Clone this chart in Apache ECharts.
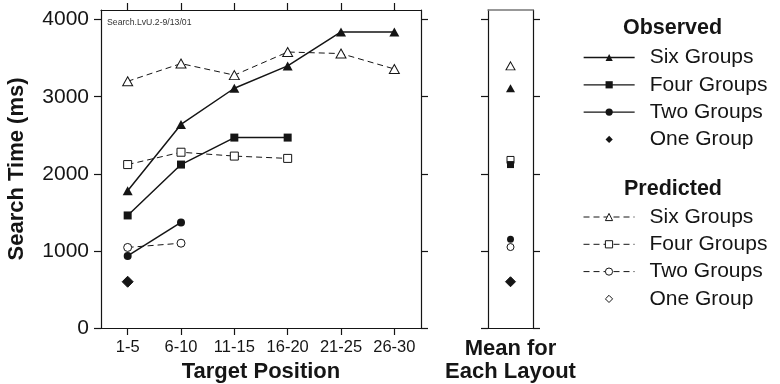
<!DOCTYPE html>
<html>
<head>
<meta charset="utf-8">
<script src="https://cdn.jsdelivr.net/npm/echarts@6/dist/echarts.min.js"></script>
<style>
  html, body { margin: 0; padding: 0; background: #fff; }
  #chart { width: 780px; height: 384px; }
</style>
</head>
<body>
<div id="chart"></div>
<script>
// Target positions along the x axis
const positions = ['1-5', '6-10', '11-15', '16-20', '21-25', '26-30'];

// Observed search times (ms)
const observedSix = [1780, 2640, 3110, 3400, 3840, 3840];
const observedFour = [1460, 2120, 2470, 2470];
const observedTwo = [935, 1370];
const observedOne = [600];

// Predicted search times (ms)
const predictedSix = [3200, 3430, 3280, 3580, 3560, 3360];
const predictedFour = [2120, 2280, 2230, 2200];
const predictedTwo = [1045, 1100];
const predictedOne = [600];

// Mean for each layout: Six, Four, Two, One group(s)
const groupNames = ['Six Groups', 'Four Groups', 'Two Groups', 'One Group'];
const meanObserved = [3110, 2120, 1150, 600];
const meanPredicted = [3400, 2180, 1050, 600];

const yTicks = [0, 1000, 2000, 3000, 4000];
const sourceNote = 'Search.LvU.2-9/13/01';

const FONT = '"Liberation Sans", Arial, Helvetica, sans-serif';
const INK = '#151515';
const Y_MAX = 4125;

const symbols = ['triangle', 'rect', 'circle', 'diamond'];
const mainSizes = [[10, 9], 8, 8, 11];
const meanSizes = [[9, 8], 7, 7, 10];

const observedSeriesData = [observedSix, observedFour, observedTwo, observedOne];
const predictedSeriesData = [predictedSix, predictedFour, predictedTwo, predictedOne];

const filledStyle = { color: INK, borderWidth: 0, opacity: 1 };
const openStyle = { color: '#fff', borderColor: INK, borderWidth: 1, opacity: 1 };
const solidLine = { color: INK, width: 1.5, type: 'solid' };
const dashedLine = { color: INK, width: 1, type: [6, 4] };
const noLine = { color: INK, width: 0, opacity: 0 };

function seriesName(kind, i) { return kind + ' ' + groupNames[i]; }

const series = [];

// Predicted series in the main panel (drawn first, beneath observed)
predictedSeriesData.forEach(function (vals, i) {
  series.push({
    name: seriesName('Predicted', i),
    type: 'line',
    xAxisIndex: 0, yAxisIndex: 0,
    data: vals,
    symbol: symbols[i],
    symbolSize: mainSizes[i],
    showAllSymbol: true,
    itemStyle: openStyle,
    lineStyle: vals.length > 1 ? dashedLine : noLine,
    emphasis: { disabled: true },
    z: 2
  });
});

// Observed series in the main panel
observedSeriesData.forEach(function (vals, i) {
  series.push({
    name: seriesName('Observed', i),
    type: 'line',
    xAxisIndex: 0, yAxisIndex: 0,
    data: vals,
    symbol: symbols[i],
    symbolSize: mainSizes[i],
    showAllSymbol: true,
    itemStyle: filledStyle,
    lineStyle: vals.length > 1 ? solidLine : noLine,
    emphasis: { disabled: true },
    z: 3
  });
});

// Mean markers: predicted underneath, observed on top
meanPredicted.forEach(function (v, i) {
  series.push({
    name: seriesName('Predicted', i),
    type: 'scatter',
    xAxisIndex: 2, yAxisIndex: 2,
    data: [v],
    symbol: symbols[i],
    symbolSize: meanSizes[i],
    itemStyle: openStyle,
    emphasis: { disabled: true },
    z: 3
  });
});
meanObserved.forEach(function (v, i) {
  series.push({
    name: seriesName('Observed', i),
    type: 'scatter',
    xAxisIndex: 2, yAxisIndex: 2,
    data: [v],
    symbol: symbols[i],
    symbolSize: meanSizes[i],
    itemStyle: filledStyle,
    emphasis: { disabled: true },
    z: 4
  });
});

const axisLineStyle = { color: INK, width: 1.2 };
const tickStyle = { color: INK, width: 1.2 };

function valueAxis(gridIndex, position, withLabels) {
  return {
    type: 'value',
    gridIndex: gridIndex,
    position: position,
    min: 0,
    max: Y_MAX,
    interval: 1000,
    splitLine: { show: false },
    axisLine: { show: true, onZero: false, lineStyle: axisLineStyle },
    axisTick: { show: true, length: 7, lineStyle: tickStyle, customValues: yTicks },
    axisLabel: {
      show: withLabels,
      customValues: yTicks,
      formatter: function (v) { return String(v); },
      fontSize: 21,
      margin: 12,
      color: INK,
      fontFamily: FONT
    }
  };
}

const mainLeft = Object.assign(valueAxis(0, 'left', true), {
  name: 'Search Time (ms)',
  nameLocation: 'middle',
  nameRotate: 90,
  nameGap: 73,
  nameTextStyle: { fontSize: 22, fontWeight: 'bold', color: INK, fontFamily: FONT }
});

function legendFor(kind, top) {
  return {
    orient: 'vertical',
    left: 583,
    top: top,
    padding: 0,
    itemWidth: 51,
    itemHeight: 9,
    itemGap: 6.3,
    selectedMode: false,
    data: groupNames.map(function (g, i) {
      const n = seriesName(kind, i);
      // the single-group entry is a bare marker with no line sample
      return i === 3 ? { name: n, lineStyle: { width: 0, opacity: 0 } } : n;
    }),
    formatter: function (name) { return name.replace(/^(Observed|Predicted) /, ''); },
    textStyle: { fontSize: 21, lineHeight: 21, color: INK, fontFamily: FONT, padding: [0, 0, 0, 10] },
    lineStyle: { width: kind === 'Observed' ? 1.3 : 1 },
    itemStyle: { borderWidth: 1 }
  };
}

const option = {
  animation: false,
  backgroundColor: '#fff',
  textStyle: { fontFamily: FONT },
  grid: [
    { left: 101, top: 10, width: 320, height: 318, outerBoundsMode: 'none', containLabel: false },
    { left: 488, top: 10, width: 45, height: 318, outerBoundsMode: 'none', containLabel: false }
  ],
  xAxis: [
    {
      type: 'category', gridIndex: 0, position: 'bottom', data: positions, boundaryGap: true,
      axisLine: { show: true, onZero: false, lineStyle: axisLineStyle },
      axisTick: { show: true, alignWithLabel: true, length: 7, lineStyle: tickStyle },
      axisLabel: { fontSize: 16.5, margin: 11, color: INK, fontFamily: FONT, interval: 0 },
      name: 'Target Position', nameLocation: 'middle', nameGap: 33,
      nameTextStyle: { fontSize: 22, fontWeight: 'bold', color: INK, fontFamily: FONT }
    },
    {
      type: 'category', gridIndex: 0, position: 'top', data: positions, boundaryGap: true,
      axisLine: { show: true, onZero: false, lineStyle: axisLineStyle },
      axisTick: { show: true, alignWithLabel: true, length: 7, lineStyle: tickStyle },
      axisLabel: { show: false }
    },
    {
      type: 'category', gridIndex: 1, position: 'bottom', data: ['Mean'], boundaryGap: true,
      axisLine: { show: true, onZero: false, lineStyle: axisLineStyle },
      axisTick: { show: false },
      axisLabel: { show: false },
      name: 'Mean for\nEach Layout', nameLocation: 'middle', nameGap: 9,
      nameTextStyle: { fontSize: 22, fontWeight: 'bold', lineHeight: 23.5, color: INK, fontFamily: FONT }
    },
    {
      type: 'category', gridIndex: 1, position: 'top', data: ['Mean'], boundaryGap: true,
      axisLine: { show: true, onZero: false, lineStyle: { color: '#777', width: 1.5 } },
      axisTick: { show: false },
      axisLabel: { show: false }
    }
  ],
  yAxis: [
    mainLeft,
    valueAxis(0, 'right', false),
    valueAxis(1, 'left', false),
    valueAxis(1, 'right', false)
  ],
  legend: [legendFor('Observed', 47), legendFor('Predicted', 206.5)],
  graphic: [
    {
      type: 'text', x: 107, y: 22.7,
      style: { text: sourceNote, fontSize: 8.7, fontFamily: FONT, fill: '#333', align: 'left', verticalAlign: 'middle' }
    },
    {
      type: 'text', x: 672.5, y: 28,
      style: { text: 'Observed', fontSize: 21.5, fontWeight: 'bold', fontFamily: FONT, fill: INK, align: 'center', verticalAlign: 'middle' }
    },
    {
      type: 'text', x: 673, y: 189,
      style: { text: 'Predicted', fontSize: 21.5, fontWeight: 'bold', fontFamily: FONT, fill: INK, align: 'center', verticalAlign: 'middle' }
    }
  ],
  series: series
};

const chart = echarts.init(document.getElementById('chart'), null, { renderer: 'canvas' });
chart.setOption(option);
</script>
</body>
</html>
